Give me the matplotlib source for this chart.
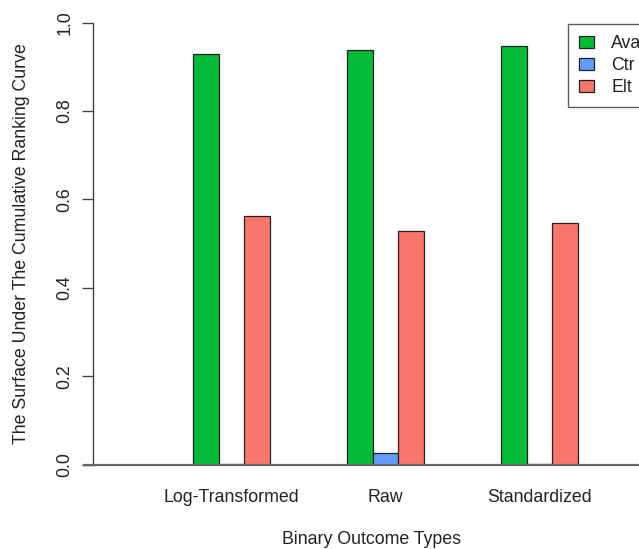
import matplotlib
matplotlib.use("Agg")
import matplotlib.pyplot as plt
from matplotlib.patches import Patch
import numpy as np

plt.rcParams['font.family'] = ['Liberation Sans', 'DejaVu Sans']

categories = ["Log-Transformed", "Raw", "Standardized"]
series_names = ["Ava", "Ctr", "Elt"]
ava = [0.930, 0.939, 0.948]
ctr = [0.002, 0.027, 0.002]
elt = [0.563, 0.528, 0.546]
colors = ["#00BA38", "#619CFF", "#F8766D"]
yticks = [0.0, 0.2, 0.4, 0.6, 0.8, 1.0]

W, H = 639, 549
fig = plt.figure(figsize=(W / 100, H / 100), dpi=100)

ax_l, ax_r = 93, 639
y0, y1 = 464.5, 22.7
ax = fig.add_axes([ax_l / W, (H - y0) / H, (ax_r - ax_l) / W, (y0 - y1) / H])

unit = 25.67
ax.set_xlim(0, (ax_r - ax_l) / unit)
ax.set_ylim(0, 1)

FS = 12.8
centers = 5.4 + 6 * np.arange(len(categories))
edge = "#222222"
for k, (vals, col) in enumerate(zip([ava, ctr, elt], colors)):
    ax.bar(centers + (k - 1), vals, width=1.0, color=col, edgecolor=edge,
           linewidth=0.9, zorder=3)

for s in ["top", "right", "bottom"]:
    ax.spines[s].set_visible(False)
ax.spines["left"].set_color("#444444")
ax.spines["left"].set_linewidth(1.0)

ax.set_yticks(yticks)
ax.set_yticklabels([f"{t:.1f}" for t in yticks], rotation=90, va="center",
                   fontsize=FS, color="#222222")
ax.tick_params(axis="y", length=8, width=1.0, color="#444444", pad=6)

ax.set_xticks(centers)
ax.set_xticklabels(categories, fontsize=FS, color="#222222")
ax.tick_params(axis="x", length=0, pad=18)

# baseline
ax.plot([(84 - ax_l) / (ax_r - ax_l), 1.0], [0, 0], color="#666666", lw=1.6,
        transform=ax.get_yaxis_transform(), clip_on=False, zorder=4)

fig.text(22 / W, (H - 244) / H, "The Surface Under The Cumulative Ranking Curve",
         rotation=90, ha="center", va="center", fontsize=FS, color="#222222")
fig.text(372 / W, (H - 540) / H, "Binary Outcome Types", ha="center", va="center",
         fontsize=FS, color="#222222")

handles = [Patch(facecolor=c, edgecolor=edge, linewidth=0.9) for c in colors]
leg = fig.legend(handles, series_names, loc="upper left",
                 bbox_to_anchor=(568 / W, (H - 24) / H), frameon=True,
                 fontsize=FS, handlelength=0.85, handleheight=0.7,
                 handletextpad=0.95, borderpad=0.62, labelspacing=0.28,
                 fancybox=False, borderaxespad=0)
leg.get_frame().set_edgecolor("#333333")
leg.get_frame().set_linewidth(1.0)
for t in leg.get_texts():
    t.set_color("#222222")

fig.savefig("out.png", dpi=100)
